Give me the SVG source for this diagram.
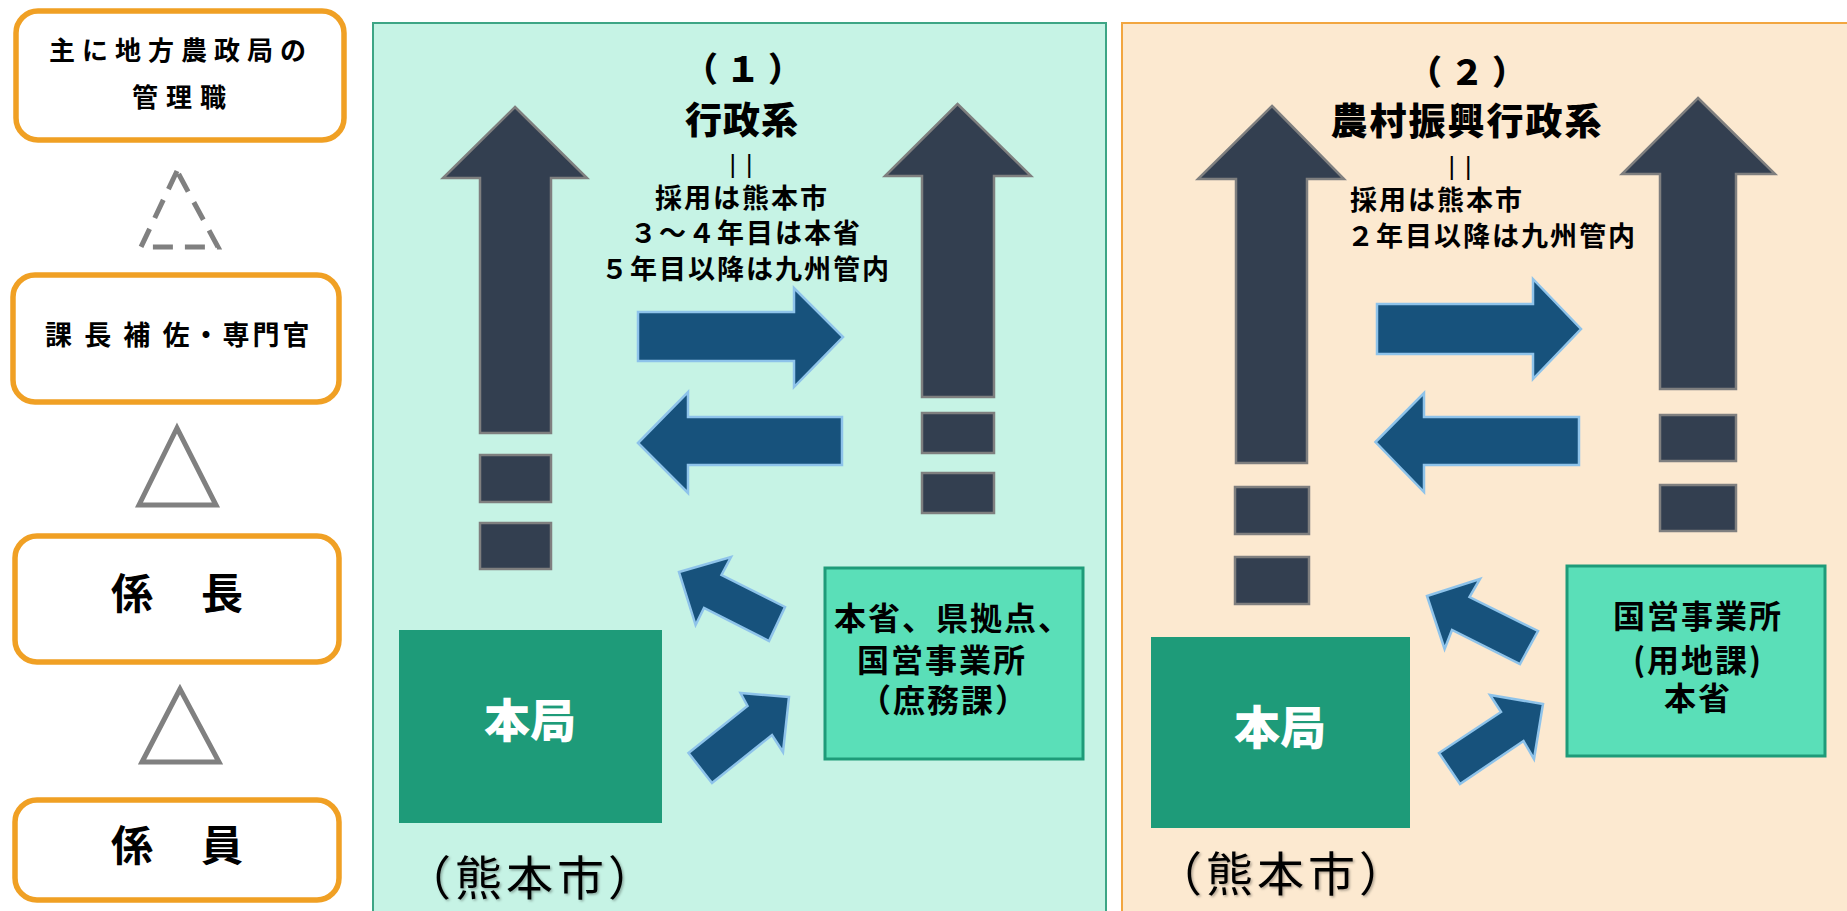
<svg xmlns="http://www.w3.org/2000/svg" width="1847" height="911" viewBox="0 0 1847 911">
<defs>
<filter id="shadow" x="-10%" y="-10%" width="130%" height="130%">
<feDropShadow dx="1.5" dy="1.5" stdDeviation="1" flood-color="#000" flood-opacity="0.3"/>
</filter>
</defs>
<style>
.lvl{fill:#ffffff;stroke:#F0A024;stroke-width:5.5}
.tri{fill:none;stroke:#808080;stroke-width:5;stroke-linejoin:miter}
.jp{font-family:"Noto Sans CJK JP","Noto Sans CJK SC",sans-serif;font-weight:700;fill:#000}
.heavy{font-weight:900}
.big{fill:#333F50;stroke:#7F7F7F;stroke-width:2.5}
.blue{fill:#17527C;stroke:#8EC3EA;stroke-width:2.5;stroke-linejoin:miter}
.hq{fill:#1E9B79}
.sub{fill:#5ADFB8;stroke:#1E9B79;stroke-width:3}
.city{font-family:"Noto Sans CJK JP","Noto Sans CJK SC",sans-serif;font-weight:400;font-size:47px;letter-spacing:4px;fill:#000}
.bar{font-family:"Liberation Sans",sans-serif;font-size:25px;fill:#000;letter-spacing:10px}
</style>
<rect width="1847" height="911" fill="#ffffff"/>

<!-- panels -->
<rect id="panel1" x="373" y="23" width="733" height="900" fill="#C6F3E5" stroke="#3DA585" stroke-width="2"/>
<rect id="panel2" x="1122" y="23" width="740" height="900" fill="#FCE9D0" stroke="#F2A640" stroke-width="2"/>

<!-- left hierarchy -->
<g id="lvl-manager">
<rect class="lvl" x="16" y="11" width="328" height="129" rx="22"/>
<text class="jp" x="49" y="60" font-size="26" letter-spacing="7">主に地方農政局の</text>
<text class="jp" x="132" y="107" font-size="26" letter-spacing="8">管理職</text>
</g>
<g id="lvl-deputy">
<rect class="lvl" x="13" y="275" width="326" height="127" rx="22"/>
<text class="jp" x="45" y="345" font-size="27" letter-spacing="3">課 長 補 佐・専門官</text>
</g>
<g id="lvl-chief">
<rect class="lvl" x="15" y="536" width="324" height="126" rx="22"/>
<text class="jp" x="111" y="609" font-size="42" letter-spacing="3">係　長</text>
</g>
<g id="lvl-staff">
<rect class="lvl" x="15" y="800" width="324" height="100" rx="22"/>
<text class="jp" x="111" y="861" font-size="42" letter-spacing="3">係　員</text>
</g>
<g id="connectors">
<polygon class="tri" points="177,171 141,247 218,247" stroke-dasharray="20 12"/>
<polygon class="tri" points="177,428 139,505 216,505"/>
<polygon class="tri" points="180,689 142,762 219,762"/>

<!-- panel 1 arrows -->
<polygon class="big" points="515,107 587,178 551,178 551,433 480,433 480,178 443,178"/>
<rect class="big" x="480" y="455" width="71" height="47"/>
<rect class="big" x="480" y="523" width="71" height="46"/>
<polygon class="big" points="957.5,104 1031,176 994,176 994,397 922,397 922,176 885,176"/>
<rect class="big" x="922" y="413" width="72" height="40"/>
<rect class="big" x="922" y="473" width="72" height="40"/>
<polygon class="blue" points="638,312 794,312 794,288 843,337 794,387 794,361 638,361"/>
<polygon class="blue" points="638,443 688,392 688,417 842,417 842,465 688,465 688,493"/>
<polygon class="blue" points="679,572 731,557 721.5,575 785,607 769,641 704,608 695.6,625"/>
<polygon class="blue" points="789,697 740.5,693 747.5,706 688.5,753 712,783 772,735 783,752"/>

<!-- panel 2 arrows -->
<polygon class="big" points="1272,106 1344,179 1307,179 1307,463 1236,463 1236,179 1198,179"/>
<rect class="big" x="1235" y="487" width="74" height="47"/>
<rect class="big" x="1235" y="557" width="74" height="47"/>
<polygon class="big" points="1698,98 1775,174 1736,174 1736,389 1660,389 1660,174 1622,174"/>
<rect class="big" x="1660" y="415" width="76" height="46"/>
<rect class="big" x="1660" y="485" width="76" height="46"/>
<polygon class="blue" points="1377,304 1533,304 1533,279 1581,329 1533,379 1533,354 1377,354"/>
<polygon class="blue" points="1375.5,442 1424,393 1424,417 1579,417 1579,465 1424,465 1424,492"/>
<polygon class="blue" points="1427,596 1480,579 1469.5,597 1538,631 1520,664 1452,630 1444.6,649"/>
<polygon class="blue" points="1543,704 1490,695 1501,712 1439,753 1460,784 1523.5,741 1534,759"/>
</g>

<!-- panel 1 texts -->
<g id="title1">
<text class="jp heavy" x="747" y="82" font-size="34" text-anchor="middle" letter-spacing="8">（１）</text>
<text class="jp heavy" x="742" y="134" font-size="37" text-anchor="middle" letter-spacing="1">行政系</text>
<text class="bar" x="746" y="173" text-anchor="middle">||</text>
<text class="jp" x="742" y="208" font-size="27" text-anchor="middle" letter-spacing="2">採用は熊本市</text>
<text class="jp" x="746" y="243" font-size="27" text-anchor="middle" letter-spacing="2">３～４年目は本省</text>
<text class="jp" x="746" y="279" font-size="27" text-anchor="middle" letter-spacing="2">５年目以降は九州管内</text>
</g>
<g id="hq1">
<rect class="hq" x="399" y="630" width="263" height="193"/>
<text class="jp heavy" x="530" y="737" font-size="46" text-anchor="middle" style="fill:#ffffff">本局</text>
</g>
<text class="city" x="404" y="895" filter="url(#shadow)">（熊本市）</text>
<g id="dest1">
<rect class="sub" x="825" y="568" width="258" height="191"/>
<text class="jp" x="834" y="630" font-size="32" letter-spacing="2">本省、県拠点、</text>
<text class="jp" x="857" y="672" font-size="32" letter-spacing="2">国営事業所</text>
<text class="jp" x="859" y="712" font-size="32" letter-spacing="2">（庶務課）</text>
</g>

<!-- panel 2 texts -->
<g id="title2">
<text class="jp heavy" x="1471" y="85" font-size="34" text-anchor="middle" letter-spacing="8">（２）</text>
<text class="jp heavy" x="1467" y="135" font-size="37" text-anchor="middle" letter-spacing="2">農村振興行政系</text>
<text class="bar" x="1465" y="175" text-anchor="middle">||</text>
<text class="jp" x="1350" y="210" font-size="27" letter-spacing="2">採用は熊本市</text>
<text class="jp" x="1347" y="246" font-size="27" letter-spacing="2">２年目以降は九州管内</text>
</g>
<g id="hq2">
<rect class="hq" x="1151" y="637" width="259" height="191"/>
<text class="jp heavy" x="1280" y="744" font-size="46" text-anchor="middle" style="fill:#ffffff">本局</text>
</g>
<text class="city" x="1155" y="891" filter="url(#shadow)">（熊本市）</text>
<g id="dest2">
<rect class="sub" x="1567" y="566" width="258" height="190"/>
<text class="jp" x="1698" y="628" font-size="32" text-anchor="middle" letter-spacing="2">国営事業所</text>
<text class="jp" x="1698" y="672" font-size="32" text-anchor="middle" letter-spacing="2">(用地課)</text>
<text class="jp" x="1698" y="710" font-size="32" text-anchor="middle" letter-spacing="2">本省</text>
</g>
</svg>
